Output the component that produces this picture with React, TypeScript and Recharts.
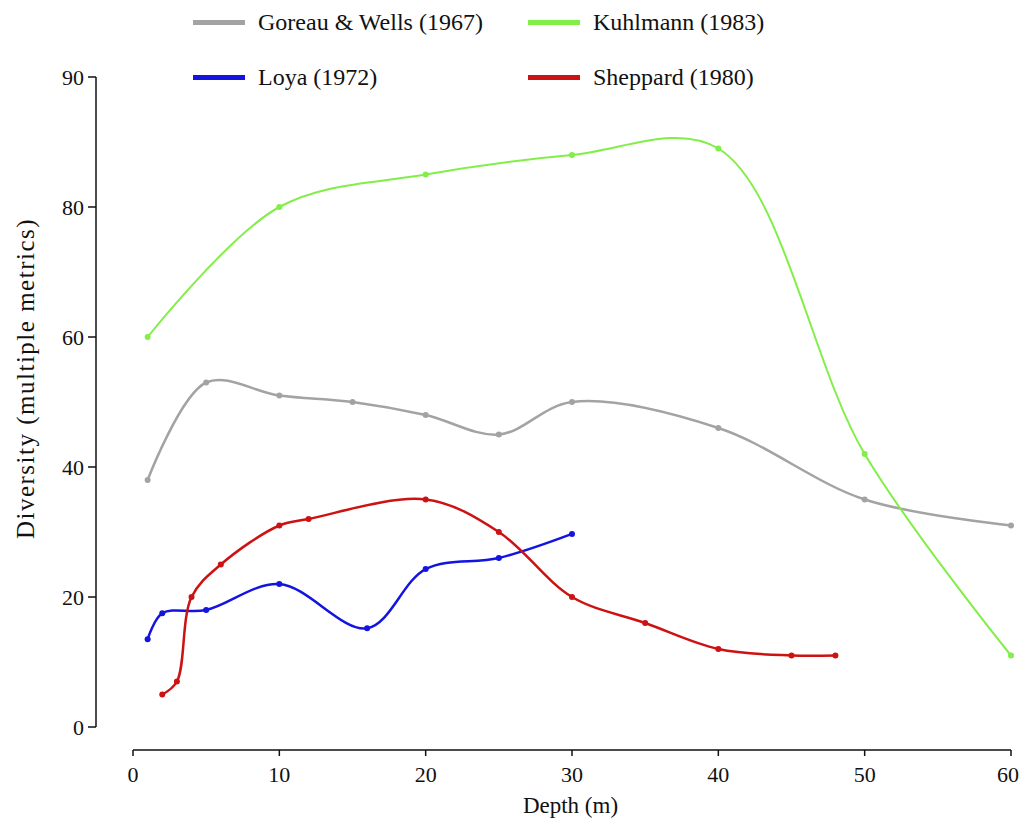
import { LineChart, Line, XAxis, YAxis, Legend } from 'recharts'

// depth (m) and diversity values
const goreauDepth = [1, 5, 10, 15, 20, 25, 30, 40, 50, 60]
const goreauValues = [38, 53, 51, 50, 48, 45, 50, 46, 35, 31]

const kuhlmannDepth = [1, 10, 20, 30, 40, 50, 60]
const kuhlmannValues = [60, 80, 85, 88, 89, 42, 11]

const loyaDepth = [1, 2, 5, 10, 16, 20, 25, 30]
const loyaValues = [13.5, 17.5, 18, 22, 15.2, 24.3, 26, 29.7]

const sheppardDepth = [2, 3, 4, 6, 10, 12, 20, 25, 30, 35, 40, 45, 48]
const sheppardValues = [5, 7, 20, 25, 31, 32, 35, 30, 20, 16, 12, 11, 11]

const xTicks = [0, 10, 20, 30, 40, 50, 60]
const yTicks = [0, 20, 40, 60, 80, 100]
// the top tick of the original figure is labelled 90
const yTickLabels = ['0', '20', '40', '60', '80', '90']

const toPoints = (xs: number[], ys: number[]) => xs.map((x, i) => ({ depth: x, value: ys[i] }))

const series = [
  { name: 'Goreau & Wells (1967)', color: '#a3a3a3', width: 2.5, data: toPoints(goreauDepth, goreauValues) },
  { name: 'Kuhlmann (1983)', color: '#82ee48', width: 2, data: toPoints(kuhlmannDepth, kuhlmannValues) },
  { name: 'Loya (1972)', color: '#1414e0', width: 2.5, data: toPoints(loyaDepth, loyaValues) },
  { name: 'Sheppard (1980)', color: '#cc1212', width: 2.5, data: toPoints(sheppardDepth, sheppardValues) },
]

const serif = '"Liberation Serif", "Times New Roman", serif'

// centripetal catmull-rom (alpha 0.5), same maths as d3's curveCatmullRom
function smoothCurve(context: any) {
  let pts: number[][] = []
  const dist = (a: number[], b: number[]) => Math.hypot(a[0] - b[0], a[1] - b[1])
  return {
    areaStart() {},
    areaEnd() {},
    lineStart() { pts = [] },
    point(x: number, y: number) { pts.push([+x, +y]) },
    lineEnd() {
      if (!pts.length) return
      context.moveTo(pts[0][0], pts[0][1])
      for (let i = 0; i < pts.length - 1; i++) {
        const p0 = pts[i - 1] || pts[i]
        const p1 = pts[i]
        const p2 = pts[i + 1]
        const p3 = pts[i + 2] || p2
        const l01 = Math.sqrt(dist(p0, p1)), l12 = Math.sqrt(dist(p1, p2)), l23 = Math.sqrt(dist(p2, p3))
        const l01s = l01 * l01, l12s = l12 * l12, l23s = l23 * l23
        let x1 = p1[0], y1 = p1[1], x2 = p2[0], y2 = p2[1]
        if (l01 > 1e-6) {
          const a = 2 * l01s + 3 * l01 * l12 + l12s
          const n = 3 * l01 * (l01 + l12)
          x1 = (p1[0] * a - p0[0] * l12s + p2[0] * l01s) / n
          y1 = (p1[1] * a - p0[1] * l12s + p2[1] * l01s) / n
        }
        if (l23 > 1e-6) {
          const b = 2 * l23s + 3 * l23 * l12 + l12s
          const m = 3 * l23 * (l23 + l12)
          x2 = (p2[0] * b + p1[0] * l23s - p3[0] * l12s) / m
          y2 = (p2[1] * b + p1[1] * l23s - p3[1] * l12s) / m
        }
        context.bezierCurveTo(x1, y1, x2, y2, p2[0], p2[1])
      }
    },
  }
}

const renderLegend = (props: any) => {
  const { payload } = props
  return (
    <div style={{ display: 'grid', gridTemplateColumns: '335px 335px', rowGap: 27, fontFamily: serif, fontSize: 24, color: '#111' }}>
      {payload.map((entry: any) => (
        <div key={entry.value} style={{ display: 'flex', alignItems: 'center', height: 28 }}>
          <span style={{ display: 'inline-block', width: 52, height: 5, background: entry.color, marginRight: 13 }} />
          <span>{entry.value}</span>
        </div>
      ))}
    </div>
  )
}

export default function App() {
  return (
    <LineChart width={1011} height={812} margin={{ top: 69, right: 8, left: 0, bottom: 0 }}>
      <XAxis
        dataKey="depth"
        type="number"
        domain={[0, 60]}
        ticks={xTicks}
        padding={{ left: 37, right: 0 }}
        height={70}
        tickSize={6}
        tickMargin={10}
        tick={{ fill: '#111', fontSize: 22, fontFamily: serif }}
        tickLine={{ stroke: '#111', strokeWidth: 1.5 }}
        axisLine={{ stroke: '#111', strokeWidth: 1.5, strokeDasharray: '0 37 878 0' }}
        label={{ value: 'Depth (m)', position: 'insideBottom', offset: 7, dx: 17, fill: '#111', fontSize: 23, fontFamily: serif }}
      />
      <YAxis
        type="number"
        domain={[0, 100]}
        ticks={yTicks}
        width={88}
        padding={{ top: 0, bottom: 23 }}
        tickSize={8}
        tickMargin={4}
        tickFormatter={(v: number) => yTickLabels[yTicks.indexOf(v)]}
        tick={{ fill: '#111', fontSize: 22, fontFamily: serif }}
        tickLine={{ stroke: '#111', strokeWidth: 1.5 }}
        axisLine={{ stroke: '#111', strokeWidth: 1.5, strokeDasharray: '650 100' }}
        label={{
          value: 'Diversity (multiple metrics)',
          angle: -90,
          position: 'insideLeft',
          offset: 17,
          dy: -35,
          fill: '#111',
          fontSize: 25,
          fontFamily: serif,
          style: { textAnchor: 'middle', letterSpacing: 1.5 },
        }}
      />
      <Legend
        layout="horizontal"
        align="center"
        verticalAlign="middle"
        content={renderLegend}
        wrapperStyle={{ top: 0, left: 185, width: 700 }}
      />
      {series.map(s => (
        <Line
          key={s.name}
          name={s.name}
          data={s.data}
          dataKey="value"
          type={smoothCurve as any}
          stroke={s.color}
          strokeWidth={s.width}
          dot={{ r: 3, fill: s.color, stroke: s.color, strokeWidth: 0 }}
          activeDot={false}
          legendType="line"
          isAnimationActive={false}
        />
      ))}
    </LineChart>
  )
}
